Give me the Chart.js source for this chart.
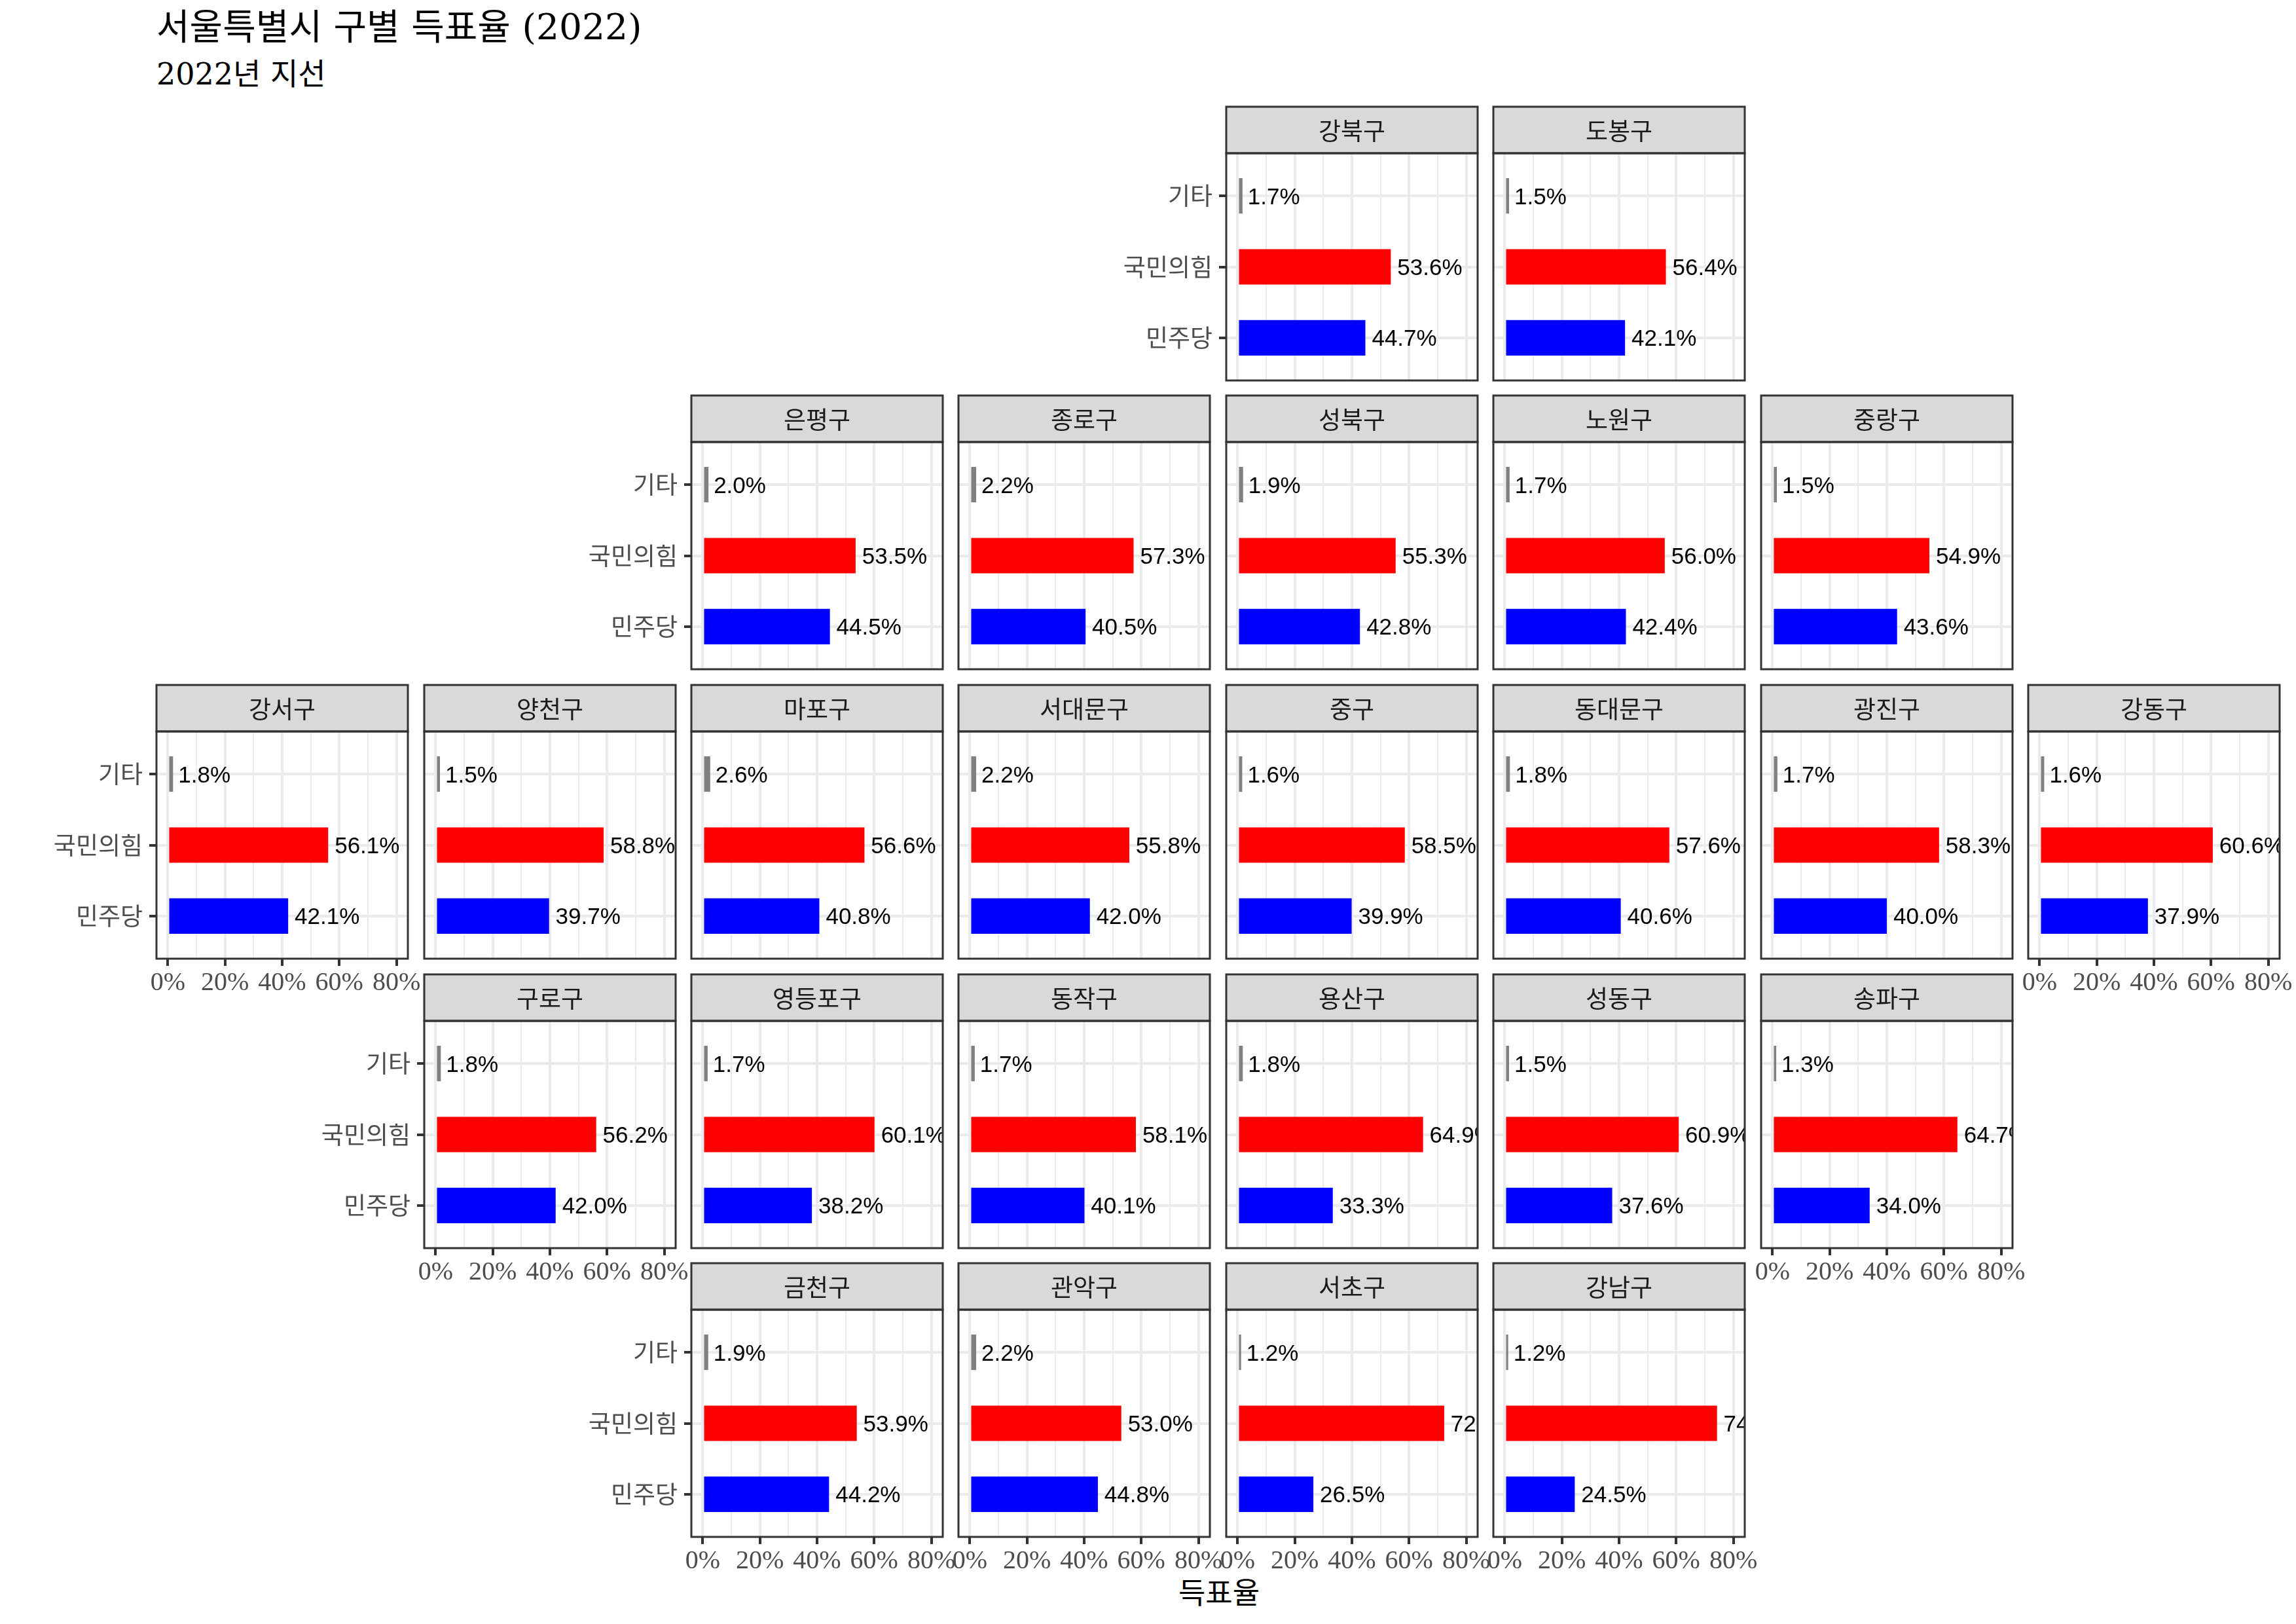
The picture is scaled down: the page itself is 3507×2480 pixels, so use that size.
<!DOCTYPE html>
<html><head><meta charset="utf-8">
<script src="https://cdn.jsdelivr.net/npm/chart.js@4.4.1/dist/chart.umd.min.js"></script>
<style>
html,body{margin:0;padding:0;background:#fff;}
#root{position:relative;width:3507px;height:2480px;overflow:hidden;background:#fff;}
#root canvas{position:absolute;}
.t{position:absolute;white-space:nowrap;font-family:"DejaVu Serif","Noto Sans CJK KR",sans-serif;line-height:1;color:#000;}
</style></head><body>
<div id="root">
<div class="t" id="title" style="left:239px;top:14px;font-size:55px;">서울특별시 구별 득표율 (2022)</div>
<div class="t" id="subtitle" style="left:239px;top:90px;font-size:46px;">2022년 지선</div>
<div class="t" id="xtitle" style="left:1862px;top:2411px;font-size:45px;transform:translateX(-50%);">득표율</div>
</div>
<script>
// ---- data ----
const districts = ['강북구','도봉구','은평구','종로구','성북구','노원구','중랑구','강서구','양천구','마포구','서대문구','중구','동대문구','광진구','강동구','구로구','영등포구','동작구','용산구','성동구','송파구','금천구','관악구','서초구','강남구'];
const gridRow = [0,0,1,1,1,1,1,2,2,2,2,2,2,2,2,3,3,3,3,3,3,4,4,4,4];
const gridCol = [4,5,2,3,4,5,6,0,1,2,3,4,5,6,7,1,2,3,4,5,6,2,3,4,5];
const partyLabels = ['기타','국민의힘','민주당'];
const otherShare = [1.7,1.5,2.0,2.2,1.9,1.7,1.5,1.8,1.5,2.6,2.2,1.6,1.8,1.7,1.6,1.8,1.7,1.7,1.8,1.5,1.3,1.9,2.2,1.2,1.2];
const pppShare   = [53.6,56.4,53.5,57.3,55.3,56.0,54.9,56.1,58.8,56.6,55.8,58.5,57.6,58.3,60.6,56.2,60.1,58.1,64.9,60.9,64.7,53.9,53.0,72.3,74.3];
const dpkShare   = [44.7,42.1,44.5,40.5,42.8,42.4,43.6,42.1,39.7,40.8,42.0,39.9,40.6,40.0,37.9,42.0,38.2,40.1,33.3,37.6,34.0,44.2,44.8,26.5,24.5];
const xTickValues = [0,10,20,30,40,50,60,70,80];
const xLabelTicks = [0,20,40,60,80];

// ---- styling / layout ----
const partyPos = [3,2,1];
const partyColors = ['#808080','#FF0000','#0000FF'];
const seriesByParty = [otherShare, pppShare, dpkShare];
const LEFT0 = 239.3, COLP = 408.4, TOP0 = 162.6, ROWP = 441.7;
const STRIP_H = 71, PANEL_W = 384, PANEL_H = 347;
const LPAD = 220, RPAD = 60, BPAD = 80, TOPX = 3;
const CJK = '"Noto Sans CJK KR", "Noto Sans", sans-serif';
const TICKF = '"Liberation Serif", "Noto Sans CJK KR", serif';
const CLEAR = 'rgba(0,0,0,0)';

const occupied = new Set(districts.map((d,i)=>gridRow[i]+','+gridCol[i]));

const facetPlugin = {
  id: 'facet',
  afterDatasetsDraw(chart, args, opts) {
    const ctx = chart.ctx, ca = chart.chartArea;
    const meta = chart.getDatasetMeta(0);
    const ds = chart.data.datasets[0].data;
    ctx.save();
    ctx.beginPath(); ctx.rect(ca.left, ca.top, ca.right-ca.left, ca.bottom-ca.top); ctx.clip();
    const fs = 35;
    ctx.font = fs + 'px "Liberation Sans", Arial, sans-serif';
    ctx.fillStyle = '#000'; ctx.textAlign = 'left'; ctx.textBaseline = 'alphabetic';
    meta.data.forEach((bar, i) => {
      const s = ds[i].x.toFixed(1) + '%';
      const w = ctx.measureText(s).width;
      ctx.fillText(s, bar.x + 0.1*w, bar.y + 0.358*fs);
    });
    ctx.restore();
  },
  afterDraw(chart, args, opts) {
    const ctx = chart.ctx, ca = chart.chartArea;
    const w = ca.right - ca.left, h = ca.bottom - ca.top;
    ctx.save();
    ctx.fillStyle = '#D9D9D9';
    ctx.fillRect(ca.left, ca.top - STRIP_H, w, STRIP_H);
    ctx.strokeStyle = '#333333'; ctx.lineWidth = 3;
    ctx.strokeRect(ca.left, ca.top - STRIP_H, w, STRIP_H);
    ctx.strokeRect(ca.left, ca.top, w, h);
    ctx.fillStyle = '#1A1A1A';
    ctx.font = '37px ' + CJK;
    ctx.textAlign = 'center'; ctx.textBaseline = 'middle';
    ctx.fillText(opts.name, (ca.left+ca.right)/2, ca.top - STRIP_H/2 + 1);
    ctx.restore();
  }
};

const root = document.getElementById('root');
districts.forEach((name, i) => {
  const r = gridRow[i], c = gridCol[i];
  const showY = !occupied.has(r + ',' + (c-1));
  const showX = !occupied.has((r+1) + ',' + c);
  const panelLeft = Math.round(LEFT0 + c*COLP);
  const stripTop = Math.round(TOP0 + r*ROWP);
  const cv = document.createElement('canvas');
  const W = LPAD + PANEL_W + RPAD, H = TOPX + STRIP_H + PANEL_H + BPAD;
  cv.width = W; cv.height = H;
  cv.style.left = (panelLeft - LPAD) + 'px';
  cv.style.top = (stripTop - TOPX) + 'px';
  cv.style.width = W + 'px'; cv.style.height = H + 'px';
  root.appendChild(cv);
  const isMajor = v => xLabelTicks.includes(v);
  new Chart(cv.getContext('2d'), {
    type: 'bar',
    data: {
      datasets: [{
        data: partyLabels.map((p, j) => ({x: seriesByParty[j][i], y: partyPos[j]})),
        backgroundColor: partyColors,
        borderWidth: 0,
        barPercentage: 0.5,
        categoryPercentage: 1
      }]
    },
    options: {
      responsive: false, animation: false, devicePixelRatio: 1,
      indexAxis: 'y',
      layout: {padding: {left: 0, right: RPAD, top: TOPX + STRIP_H, bottom: 0}},
      plugins: {legend: {display: false}, tooltip: {enabled: false}, facet: {name}},
      scales: {
        x: {
          type: 'linear', position: 'bottom', min: -4, max: 84, offset: false,
          afterBuildTicks: s => { s.ticks = xTickValues.map(v => ({value: v})); },
          afterFit: s => { s.height = BPAD; },
          border: {display: false},
          grid: {
            offset: false,
            color: '#EBEBEB',
            lineWidth: ctx => (ctx.tick && isMajor(ctx.tick.value)) ? 4 : 2,
            drawTicks: true, tickLength: 11, tickWidth: 4,
            tickColor: ctx => (showX && ctx.tick && isMajor(ctx.tick.value)) ? '#333333' : CLEAR
          },
          ticks: {
            autoSkip: false, maxRotation: 0, minRotation: 0, padding: 2,
            color: showX ? '#4D4D4D' : CLEAR,
            font: {family: TICKF, size: 40, lineHeight: 1.2},
            callback: v => isMajor(v) ? v + '%' : ''
          }
        },
        y: {
          type: 'linear', position: 'left', min: 0.4, max: 3.6, offset: false,
          afterBuildTicks: s => { s.ticks = partyPos.map(v => ({value: v})); },
          afterFit: s => { s.width = LPAD; },
          border: {display: false},
          grid: {
            offset: false,
            color: '#EBEBEB', lineWidth: 4,
            drawTicks: true, tickLength: 11, tickWidth: 4,
            tickColor: showY ? '#333333' : CLEAR
          },
          ticks: {
            autoSkip: false, padding: 10,
            color: showY ? '#4D4D4D' : CLEAR,
            font: {family: CJK, size: 37},
            callback: v => partyLabels[partyPos.indexOf(v)]
          }
        }
      }
    },
    plugins: [facetPlugin]
  });
});
</script>
</body></html>
